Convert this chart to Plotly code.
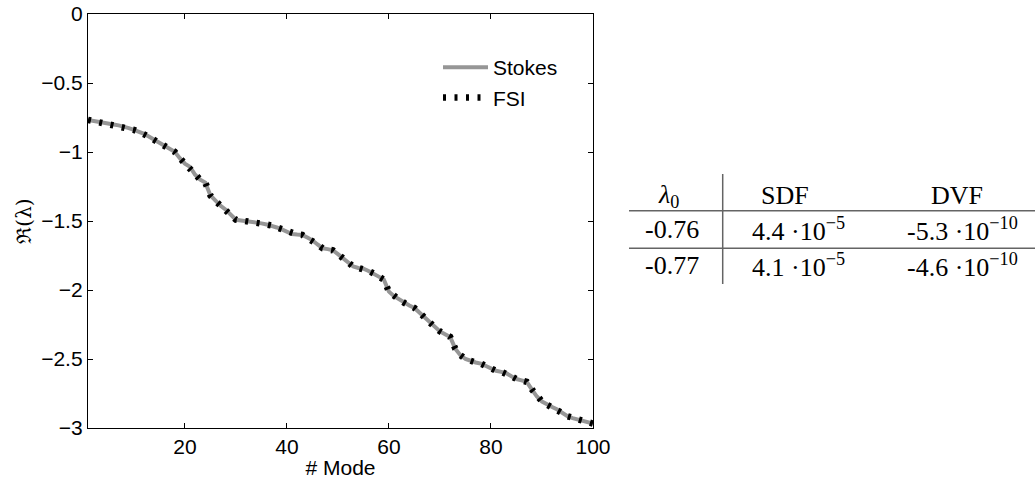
import plotly.graph_objects as go

# ---------------- data ----------------
modes = list(range(1, 101))
stokes = [
    -0.767, -0.775, -0.782, -0.789, -0.795, -0.801, -0.807, -0.815, -0.827, -0.840,
    -0.854, -0.868, -0.890, -0.913, -0.936, -0.958, -0.980, -0.999, -1.045, -1.085,
    -1.108, -1.165, -1.200, -1.222, -1.315, -1.355, -1.390, -1.418, -1.455, -1.491,
    -1.496, -1.500, -1.505, -1.510, -1.517, -1.525, -1.533, -1.547, -1.561, -1.578,
    -1.594, -1.598, -1.601, -1.620, -1.640, -1.670, -1.698, -1.704, -1.712, -1.740,
    -1.768, -1.805, -1.830, -1.840, -1.846, -1.862, -1.880, -1.903, -1.925, -2.012,
    -2.045, -2.070, -2.093, -2.112, -2.130, -2.165, -2.205, -2.238, -2.270, -2.300,
    -2.320, -2.340, -2.425, -2.472, -2.500, -2.516, -2.525, -2.533, -2.550, -2.572,
    -2.585, -2.593, -2.603, -2.625, -2.645, -2.655, -2.665, -2.720, -2.772, -2.808,
    -2.832, -2.848, -2.866, -2.892, -2.915, -2.928, -2.938, -2.950, -2.960, -2.968,
]
fsi = list(stokes)

x_ticks = [20, 40, 60, 80, 100]
y_ticks = [0, -0.5, -1, -1.5, -2, -2.5, -3]

table_header = ["<i>λ</i><sub>0</sub>", "SDF", "DVF"]
table_rows = [
    ["-0.76", "4.4 ·10<sup>−5</sup>", "-5.3 ·10<sup>−10</sup>"],
    ["-0.77", "4.1 ·10<sup>−5</sup>", "-4.6 ·10<sup>−10</sup>"],
]

# ---------------- layout geometry ----------------
W, H = 1035, 481
ML, MR, MT, MB = 88, 0, 14, 53
PW = W - ML - MR
PH = H - MT - MB
PLOT_RIGHT = 593


def px(xp):
    return (xp - ML) / PW


def py(yp):
    return (H - MB - yp) / PH


fig = go.Figure()
fig.add_trace(go.Scatter(
    x=modes, y=stokes, mode="lines", name="Stokes",
    line=dict(color="rgb(150,150,150)", width=4),
))
fig.add_trace(go.Scatter(
    x=modes, y=fsi, mode="lines", name="FSI",
    line=dict(color="black", width=6.5, dash="3px,8.5px"),
))

axis_font = dict(family="Liberation Sans, Arial, sans-serif", size=21, color="black")

fig.update_layout(
    width=W, height=H,
    margin=dict(l=ML, r=MR, t=MT, b=MB, autoexpand=False),
    paper_bgcolor="white", plot_bgcolor="white",
    font=axis_font,
    showlegend=True,
    legend=dict(
        x=px(438), y=py(47), xanchor="left", yanchor="top",
        bgcolor="rgba(0,0,0,0)", font=axis_font, itemwidth=45,
        tracegroupgap=0,
    ),
    xaxis=dict(
        domain=[0, px(PLOT_RIGHT)],
        range=[1, 100], tickvals=x_ticks,
        ticks="inside", ticklen=5, tickcolor="black", tickwidth=1,
        showline=True, linecolor="black", linewidth=1.3, mirror="ticks",
        showgrid=False, zeroline=False, automargin=False,
        title=dict(text="# Mode", font=axis_font, standoff=2),
        tickfont=axis_font,
    ),
    yaxis=dict(
        range=[-3, 0], tickvals=y_ticks,
        ticktext=["0", "−0.5", "−1", "−1.5", "−2", "−2.5", "−3"],
        ticks="inside", ticklen=5, tickcolor="black", tickwidth=1,
        showline=True, linecolor="black", linewidth=1.3, mirror="ticks",
        showgrid=False, zeroline=False, automargin=False,
        title=dict(text="ℜ(λ)", font=dict(family="DejaVu Serif", size=20, color="black"), standoff=4),
        tickfont=axis_font,
    ),
)

# ---------------- table ----------------
serif = dict(family="Liberation Serif, Times New Roman, serif", size=26, color="black")
header_x = [668, 785, 957]
row_x = [672, 798, 962]
row_y = [229, 265]
header_y = 196

for txt, xx in zip(table_header, header_x):
    fig.add_annotation(x=px(xx), y=py(header_y), xref="paper", yref="paper",
                       text=txt, showarrow=False, font=serif,
                       xanchor="center", yanchor="middle")
for row, yy in zip(table_rows, row_y):
    for txt, xx in zip(row, row_x):
        fig.add_annotation(x=px(xx), y=py(yy), xref="paper", yref="paper",
                           text=txt, showarrow=False, font=serif,
                           xanchor="center", yanchor="middle")

rule = dict(color="rgb(100,100,100)", width=1.5)
for yy in [210.7, 248.3]:
    fig.add_shape(type="line", xref="paper", yref="paper",
                  x0=px(629), x1=px(1035), y0=py(yy), y1=py(yy), line=rule)
fig.add_shape(type="line", xref="paper", yref="paper",
              x0=px(722.7), x1=px(722.7), y0=py(174), y1=py(284), line=rule)

fig.write_html("out.html", config={"displayModeBar": False},
               post_script="document.body.style.margin='0';")
